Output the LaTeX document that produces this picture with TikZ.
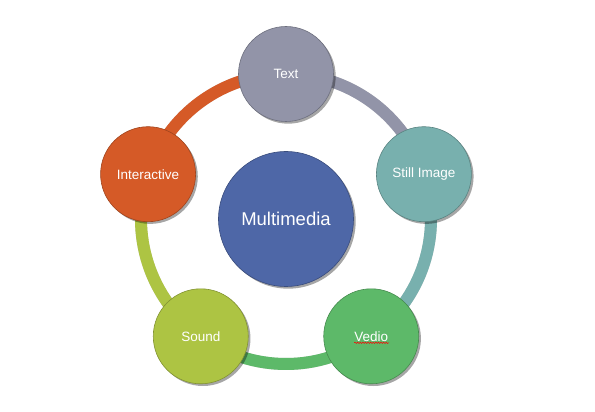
\documentclass[tikz,border=0pt]{standalone}
\usepackage{fontspec}
\setmainfont{Liberation Sans}
\usetikzlibrary{shadows,decorations.pathmorphing}
\definecolor{textgray}{HTML}{9294A8}
\definecolor{stillteal}{HTML}{78B0AE}
\definecolor{vediogreen}{HTML}{5DB969}
\definecolor{soundolive}{HTML}{ADC443}
\definecolor{interorange}{HTML}{D55A27}
\definecolor{mediablue}{HTML}{4E67A7}
\tikzset{
  item/.style={circle,fill=#1,draw=#1!75!black,line width=0.6pt,minimum size=95pt,inner sep=0pt,
    text=white,font=\fontsize{13.5}{15}\selectfont,
    drop shadow={shadow xshift=2.2pt,shadow yshift=-2.2pt,opacity=0.35,fill=black}},
  hub/.style={item=#1,minimum size=135pt,font=\fontsize{18.5}{21}\selectfont},
  band/.style={draw=#1,line width=12pt},
  band shadow/.style={draw=black,line width=12pt,opacity=0.18,xshift=1.8pt,yshift=-1.8pt},
  spell/.style={draw=red,line width=0.5pt,decorate,decoration={snake,amplitude=0.7pt,segment length=2.6pt}}
}

\begin{document}
\begin{tikzpicture}
  \useasboundingbox (-286pt,219pt) rectangle (309pt,-193pt);

  % ring positions
  \coordinate (txt-pos) at (90:145pt);
  \coordinate (still-pos) at (18:145pt);
  \coordinate (vedio-pos) at (-54:145pt);
  \coordinate (sound-pos) at (-126:145pt);
  \coordinate (inter-pos) at (162:145pt);

  % ring segments
  \draw[band shadow] (txt-pos) arc[start angle=90,end angle=-270,radius=145pt];
  \draw[band=textgray] (txt-pos) arc[start angle=90,end angle=18,radius=145pt];
  \draw[band=stillteal] (still-pos) arc[start angle=18,end angle=-54,radius=145pt];
  \draw[band=vediogreen] (vedio-pos) arc[start angle=-54,end angle=-126,radius=145pt];
  \draw[band=soundolive] (sound-pos) arc[start angle=-126,end angle=-198,radius=145pt];
  \draw[band=interorange] (inter-pos) arc[start angle=162,end angle=90,radius=145pt];

  \node[hub=mediablue] (multimedia) at (0,0) {Multimedia};
  \node[item=textgray] (txt) at (txt-pos) {Text};
  \node[item=stillteal] (still) at (still-pos) {Still Image};
  \node[item=vediogreen] (vedio) at (vedio-pos) {Vedio};
  \node[item=soundolive] (sound) at (sound-pos) {Sound};
  \node[item=interorange] (interactive) at (inter-pos) {Interactive};

  \draw[spell] ([xshift=-17pt,yshift=-6.5pt]vedio.center) -- ([xshift=18pt,yshift=-6.5pt]vedio.center);
\end{tikzpicture}
\end{document}
